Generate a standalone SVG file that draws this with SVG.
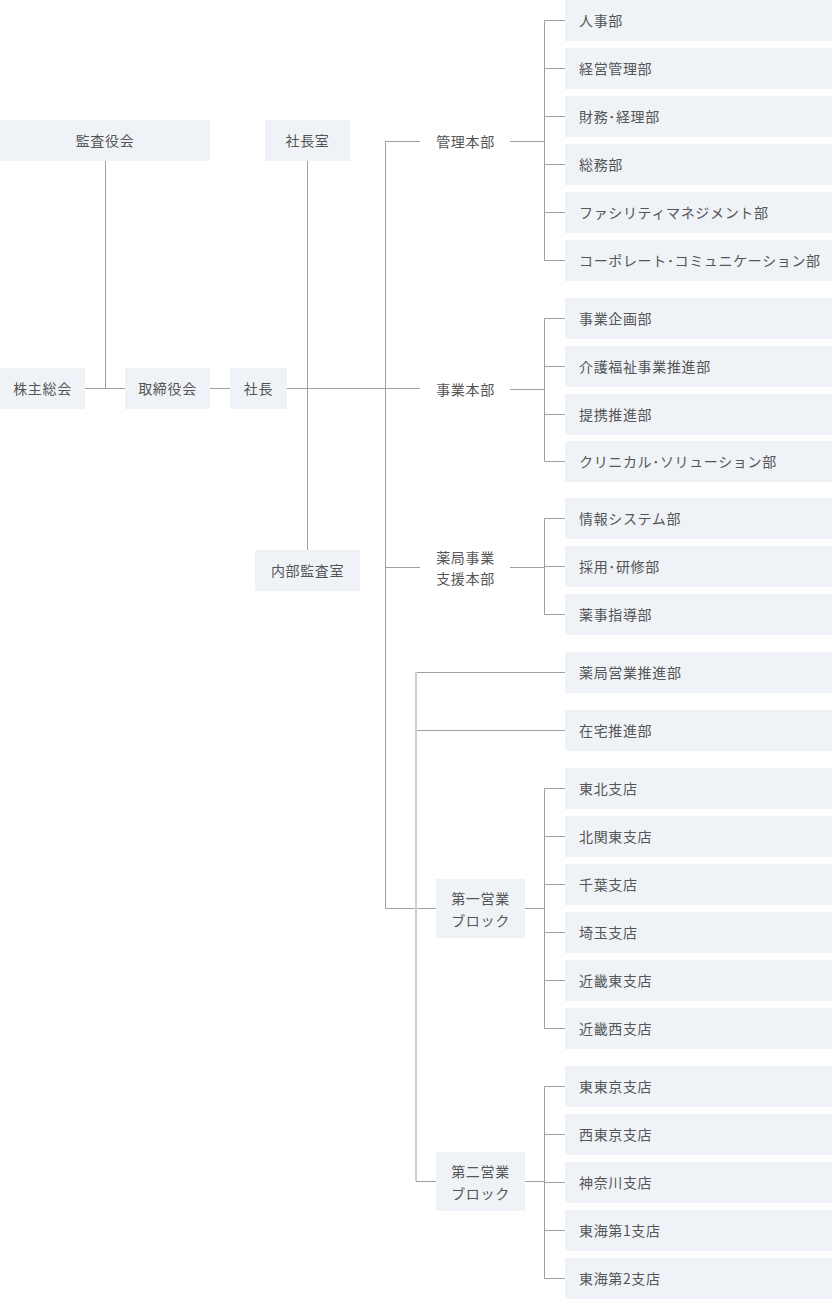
<svg xmlns="http://www.w3.org/2000/svg" width="832" height="1299" viewBox="0 0 832 1299">
<style>
.b{fill:#eff3f7}
.t{font-family:"Noto Sans CJK JP","Noto Sans",sans-serif;font-size:14px;fill:#555;letter-spacing:0.65px;dominant-baseline:central}
.c{text-anchor:middle}
.ln{stroke:#a0a0a0;stroke-width:1;fill:none}
.ln2{stroke:#cfcfcf;stroke-width:2;fill:none}
</style>
<rect width="832" height="1299" fill="#fff"/>
<g id="connectors">
<path class="ln" d="M105.5 161V388.5M85 388.5H125M210 388.5H230M287 388.5H420M307.5 161V550"/>
<path class="ln" d="M385.5 141V908.5M385.5 141.5H420M385.5 567.5H420M385.5 908.5H436"/>
<path class="ln" d="M510 141.5H544.5M510 389.5H544.5M510 567.5H544.5M525 908.5H544.5M525 1181.5H544.5"/>
<path class="ln" d="M544.5 20.5V260.5M544.5 20.5H565M544.5 68.5H565M544.5 116.5H565M544.5 164.5H565M544.5 212.5H565M544.5 260.5H565"/>
<path class="ln" d="M544.5 318.5V461.5M544.5 318.5H565M544.5 366.5H565M544.5 414.5H565M544.5 461.5H565"/>
<path class="ln" d="M544.5 518.5V614.5M544.5 518.5H565M544.5 566.5H565M544.5 614.5H565"/>
<path class="ln" d="M416 672.5H565M416 730.5H565M416 1181.5H436"/>
<path class="ln2" d="M416 672V1181"/>
<path class="ln" d="M544.5 788.5V1028.5M544.5 788.5H565M544.5 836.5H565M544.5 884.5H565M544.5 932.5H565M544.5 980.5H565M544.5 1028.5H565"/>
<path class="ln" d="M544.5 1086.5V1278.5M544.5 1086.5H565M544.5 1134.5H565M544.5 1182.5H565M544.5 1230.5H565M544.5 1278.5H565"/>
</g>
<g id="kansayakukai"><rect class="b" x="0" y="120" width="210" height="41"/><text class="t c" x="105" y="140">監査役会</text></g>
<g id="shachoshitsu"><rect class="b" x="265" y="120" width="85" height="41"/><text class="t c" x="307.5" y="140">社長室</text></g>
<g id="kabunushi"><rect class="b" x="0" y="368" width="85" height="41"/><text class="t c" x="42.5" y="388">株主総会</text></g>
<g id="torishimariyaku"><rect class="b" x="125" y="368" width="85" height="41"/><text class="t c" x="167.5" y="388">取締役会</text></g>
<g id="shacho"><rect class="b" x="230" y="368" width="57" height="41"/><text class="t c" x="258.5" y="388">社長</text></g>
<g id="naibukansa"><rect class="b" x="255" y="550" width="105" height="41"/><text class="t c" x="307.5" y="570">内部監査室</text></g>
<g id="kanri"><text class="t c" x="465.5" y="140.5">管理本部</text></g>
<g id="jigyo"><text class="t c" x="465.5" y="388.5">事業本部</text></g>
<g id="yakkyokushien"><text class="t c" x="465.5" y="556.5">薬局事業</text><text class="t c" x="465.5" y="577.5">支援本部</text></g>
<g id="block1"><rect class="b" x="436" y="879" width="89" height="59"/><text class="t c" x="480.5" y="897.5">第一営業</text><text class="t c" x="480.5" y="919.5">ブロック</text></g>
<g id="block2"><rect class="b" x="436" y="1152" width="89" height="59"/><text class="t c" x="480.5" y="1170.5">第二営業</text><text class="t c" x="480.5" y="1192.5">ブロック</text></g>
<g id="d1"><rect class="b" x="565" y="0" width="267" height="41"/><text class="t" x="579" y="20">人事部</text></g>
<g id="d2"><rect class="b" x="565" y="48" width="267" height="41"/><text class="t" x="579" y="68">経営管理部</text></g>
<g id="d3"><rect class="b" x="565" y="96" width="267" height="41"/><text class="t" x="579" y="116">財務･経理部</text></g>
<g id="d4"><rect class="b" x="565" y="144" width="267" height="41"/><text class="t" x="579" y="164">総務部</text></g>
<g id="d5"><rect class="b" x="565" y="192" width="267" height="41"/><text class="t" x="579" y="212">ファシリティマネジメント部</text></g>
<g id="d6"><rect class="b" x="565" y="240" width="267" height="41"/><text class="t" x="579" y="260">コーポレート･コミュニケーション部</text></g>
<g id="d7"><rect class="b" x="565" y="298" width="267" height="41"/><text class="t" x="579" y="318">事業企画部</text></g>
<g id="d8"><rect class="b" x="565" y="346" width="267" height="41"/><text class="t" x="579" y="366">介護福祉事業推進部</text></g>
<g id="d9"><rect class="b" x="565" y="394" width="267" height="41"/><text class="t" x="579" y="414">提携推進部</text></g>
<g id="d10"><rect class="b" x="565" y="441" width="267" height="41"/><text class="t" x="579" y="461">クリニカル･ソリューション部</text></g>
<g id="d11"><rect class="b" x="565" y="498" width="267" height="41"/><text class="t" x="579" y="518">情報システム部</text></g>
<g id="d12"><rect class="b" x="565" y="546" width="267" height="41"/><text class="t" x="579" y="566">採用･研修部</text></g>
<g id="d13"><rect class="b" x="565" y="594" width="267" height="41"/><text class="t" x="579" y="614">薬事指導部</text></g>
<g id="d14"><rect class="b" x="565" y="652" width="267" height="41"/><text class="t" x="579" y="672">薬局営業推進部</text></g>
<g id="d15"><rect class="b" x="565" y="710" width="267" height="41"/><text class="t" x="579" y="730">在宅推進部</text></g>
<g id="d16"><rect class="b" x="565" y="768" width="267" height="41"/><text class="t" x="579" y="788">東北支店</text></g>
<g id="d17"><rect class="b" x="565" y="816" width="267" height="41"/><text class="t" x="579" y="836">北関東支店</text></g>
<g id="d18"><rect class="b" x="565" y="864" width="267" height="41"/><text class="t" x="579" y="884">千葉支店</text></g>
<g id="d19"><rect class="b" x="565" y="912" width="267" height="41"/><text class="t" x="579" y="932">埼玉支店</text></g>
<g id="d20"><rect class="b" x="565" y="960" width="267" height="41"/><text class="t" x="579" y="980">近畿東支店</text></g>
<g id="d21"><rect class="b" x="565" y="1008" width="267" height="41"/><text class="t" x="579" y="1028">近畿西支店</text></g>
<g id="d22"><rect class="b" x="565" y="1066" width="267" height="41"/><text class="t" x="579" y="1086">東東京支店</text></g>
<g id="d23"><rect class="b" x="565" y="1114" width="267" height="41"/><text class="t" x="579" y="1134">西東京支店</text></g>
<g id="d24"><rect class="b" x="565" y="1162" width="267" height="41"/><text class="t" x="579" y="1182">神奈川支店</text></g>
<g id="d25"><rect class="b" x="565" y="1210" width="267" height="41"/><text class="t" x="579" y="1230">東海第1支店</text></g>
<g id="d26"><rect class="b" x="565" y="1258" width="267" height="41"/><text class="t" x="579" y="1278">東海第2支店</text></g>
</svg>
